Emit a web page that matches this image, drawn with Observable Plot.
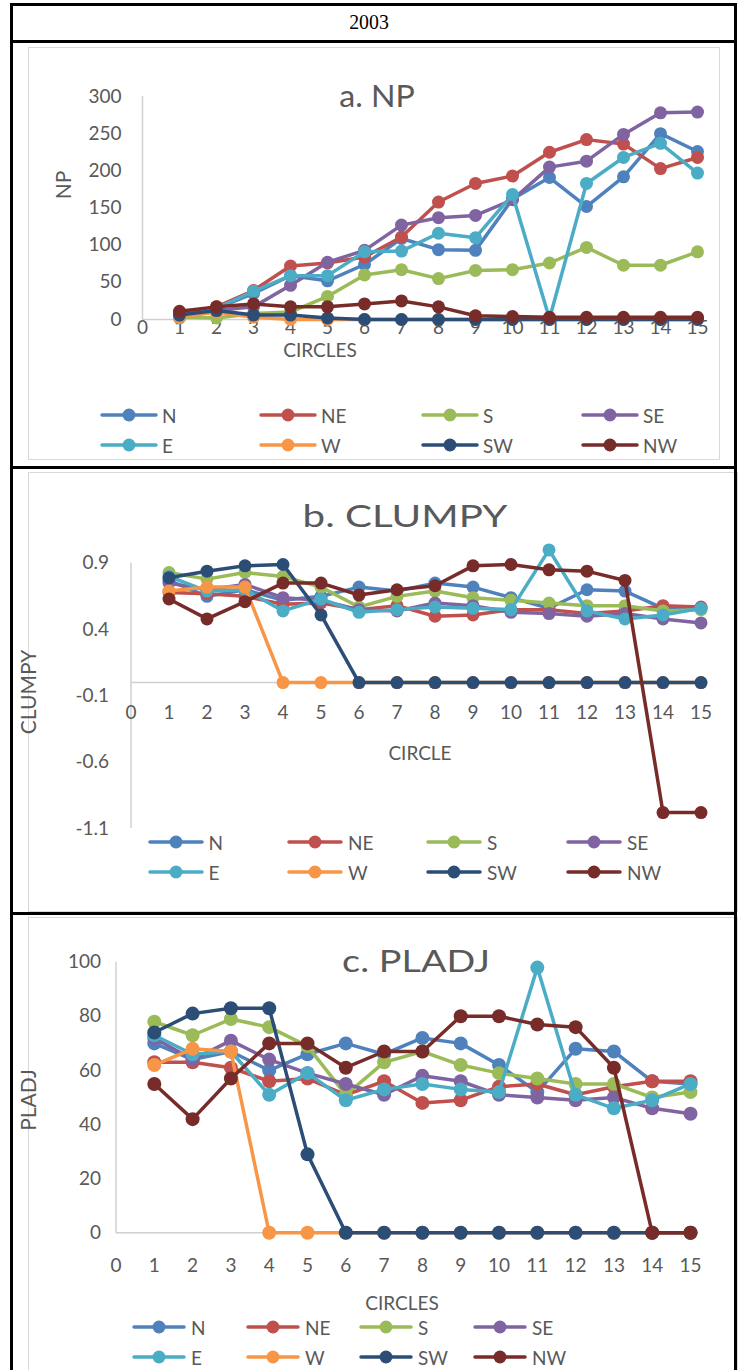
<!DOCTYPE html>
<html>
<head>
<meta charset="utf-8">
<script src="https://cdn.jsdelivr.net/npm/d3@7"></script>
<script src="https://cdn.jsdelivr.net/npm/@observablehq/plot@0.6"></script>
<style>
  html, body { margin: 0; padding: 0; background: #fff; }
  #page { position: relative; width: 738px; height: 1370px; overflow: hidden;
          font-family: Calibri, Carlito, Lato, sans-serif; color: #595959; }
  .blk { position: absolute; background: #000; }
  .gbox { position: absolute; border: 1.5px solid #d9d9d9; box-sizing: border-box; }
  .lbl { position: absolute; line-height: 1; white-space: nowrap; }
  .plotwrap { position: absolute; left: 0; }
</style>
</head>
<body>
<div id="page"></div>
<script>
// ---------------- data ----------------
const circles = [1, 2, 3, 4, 5, 6, 7, 8, 9, 10, 11, 12, 13, 14, 15];
const seriesNames = ["N", "NE", "S", "SE", "E", "W", "SW", "NW"];
const seriesColors = ["#4F81BD", "#C0504D", "#9BBB59", "#8064A2", "#4BACC6", "#F79646", "#2C4D75", "#772C2A"];
const xTicks = [0, 1, 2, 3, 4, 5, 6, 7, 8, 9, 10, 11, 12, 13, 14, 15];
const npTicks = [0, 50, 100, 150, 200, 250, 300];
const clumpyTicks = [0.9, 0.4, -0.1, -0.6, -1.1];
const pladjTicks = [0, 20, 40, 60, 80, 100];

// a. NP
const npN  = [5, 15, 35, 59, 52, 74, 109, 94, 93, 162, 191, 152, 192, 250, 226];
const npNE = [8, 17, 39, 72, 76, 84, 111, 158, 183, 193, 225, 242, 236, 203, 218];
const npS  = [3, 2, 8, 10, 31, 60, 67, 55, 66, 67, 76, 97, 73, 73, 91];
const npSE = [5, 12, 17, 46, 77, 93, 127, 137, 140, 161, 205, 213, 249, 278, 279];
const npE  = [2, 15, 38, 59, 59, 91, 92, 116, 110, 168, 1, 183, 218, 237, 197];
const npW  = [3, 10, 3, 0, 0, 0, 0, 0, 0, 0, 0, 0, 0, 0, 0];
const npSW = [6, 12, 6, 6, 2, 0, 0, 0, 0, 0, 0, 0, 0, 0, 0];
const npNW = [11, 17, 21, 17, 17, 21, 25, 17, 5, 4, 3, 3, 3, 3, 3];

// b. CLUMPY
const clN  = [0.77, 0.65, 0.70, 0.62, 0.65, 0.72, 0.69, 0.75, 0.72, 0.64, 0.56, 0.70, 0.69, 0.56, 0.56];
const clNE = [0.68, 0.67, 0.65, 0.59, 0.60, 0.55, 0.58, 0.50, 0.51, 0.55, 0.55, 0.52, 0.54, 0.58, 0.57];
const clS  = [0.83, 0.78, 0.83, 0.80, 0.72, 0.57, 0.65, 0.69, 0.64, 0.62, 0.60, 0.58, 0.58, 0.54, 0.55];
const clSE = [0.75, 0.70, 0.74, 0.64, 0.62, 0.55, 0.54, 0.60, 0.58, 0.53, 0.52, 0.50, 0.52, 0.48, 0.45];
const clE  = [0.80, 0.69, 0.70, 0.54, 0.63, 0.53, 0.55, 0.57, 0.56, 0.55, 1.00, 0.54, 0.48, 0.51, 0.56];
const clW  = [0.69, 0.72, 0.72, 0, 0, 0, 0, 0, 0, 0, 0, 0, 0, 0, 0];
const clSW = [0.79, 0.84, 0.88, 0.89, 0.51, 0, 0, 0, 0, 0, 0, 0, 0, 0, 0];
const clNW = [0.63, 0.48, 0.61, 0.75, 0.75, 0.66, 0.70, 0.73, 0.88, 0.89, 0.85, 0.84, 0.77, -0.98, -0.98];

// c. PLADJ
const plN  = [70, 64, 67, 60, 66, 70, 66, 72, 70, 62, 52, 68, 67, 56, 55];
const plNE = [63, 63, 61, 56, 57, 51, 56, 48, 49, 54, 55, 51, 54, 56, 56];
const plS  = [78, 73, 79, 76, 69, 51, 63, 67, 62, 59, 57, 55, 55, 50, 52];
const plSE = [72, 64, 71, 64, 59, 55, 51, 58, 56, 51, 50, 49, 50, 46, 44];
const plE  = [73, 66, 67, 51, 59, 49, 53, 55, 53, 52, 98, 51, 46, 49, 55];
const plW  = [62, 68, 67, 0, 0, 0, 0, 0, 0, 0, 0, 0, 0, 0, 0];
const plSW = [74, 81, 83, 83, 29, 0, 0, 0, 0, 0, 0, 0, 0, 0, 0];
const plNW = [55, 42, 57, 70, 70, 61, 67, 67, 80, 80, 77, 76, 61, 0, 0];

// ---------------- helpers ----------------
const page = document.getElementById("page");
const TXT = "#595959";
const FONT = "Lato, 'Open Sans', sans-serif";

function rowsOf(list) {
  const rows = [];
  list.forEach((vals, i) => {
    circles.forEach((c, j) => rows.push({series: seriesNames[i], circle: c, value: vals[j]}));
  });
  return rows;
}

function div(cls, css, text) {
  const d = document.createElement("div");
  d.className = cls;
  d.style.cssText = css;
  if (text !== undefined) d.textContent = text;
  page.appendChild(d);
  return d;
}

function label(text, x, y, size, rotate, sx) {
  div("lbl", `left:${x}px;top:${y}px;font-size:${size}px;font-family:${FONT};color:${TXT};` +
    `transform:translate(-50%,-50%)${rotate ? " rotate(-90deg)" : ""}${sx ? ` scaleX(${sx})` : ""};`, text);
}

function legend(xs, ys, half, gap) {
  seriesNames.forEach((name, i) => {
    const cx = xs[i % 4], cy = ys[Math.floor(i / 4)];
    const ns = "http://www.w3.org/2000/svg";
    const svg = document.createElementNS(ns, "svg");
    svg.setAttribute("width", 2 * half + 4);
    svg.setAttribute("height", 18);
    svg.style.cssText = `position:absolute;left:${cx - half - 2}px;top:${cy - 9}px;`;
    const ln = document.createElementNS(ns, "line");
    ln.setAttribute("x1", 2); ln.setAttribute("x2", 2 * half + 2);
    ln.setAttribute("y1", 9); ln.setAttribute("y2", 9);
    ln.setAttribute("stroke", seriesColors[i]); ln.setAttribute("stroke-width", 3.5);
    ln.setAttribute("stroke-linecap", "round");
    const c = document.createElementNS(ns, "circle");
    c.setAttribute("cx", half + 2); c.setAttribute("cy", 9); c.setAttribute("r", 6.5);
    c.setAttribute("fill", seriesColors[i]);
    svg.appendChild(ln); svg.appendChild(c);
    page.appendChild(svg);
    div("lbl", `left:${cx + gap}px;top:${cy}px;font-size:19px;font-family:${FONT};color:${TXT};transform:translateY(-50%);`, name);
  });
}

function chart(cfg) {
  const rows = rowsOf(cfg.values);
  const marks = [
    Plot.ruleX([0], {stroke: "#d0d0d0", strokeWidth: 1.5}),
    Plot.ruleY([0], {stroke: "#d0d0d0", strokeWidth: 1.5}),
    Plot.text(cfg.yTicks, {x: () => 0, y: d => d, text: cfg.yFmt, dx: cfg.ydx, textAnchor: "end",
      fill: TXT, fontSize: 19}),
    Plot.text(xTicks, {x: d => d, y: () => 0, text: d => String(d), dy: cfg.xdy,
      fill: TXT, fontSize: 19})
  ];
  seriesNames.forEach(name => {
    const sub = rows.filter(r => r.series === name);
    marks.push(Plot.line(sub, {x: "circle", y: "value", stroke: "series", strokeWidth: 3.5}));
    marks.push(Plot.dot(sub, {x: "circle", y: "value", fill: "series", r: cfg.r}));
  });
  const svg = Plot.plot({
    width: 738,
    height: cfg.height,
    marginLeft: cfg.ml, marginRight: cfg.mr, marginTop: cfg.mt, marginBottom: cfg.mb,
    x: {domain: [0, 15], axis: null},
    y: {domain: cfg.yDomain, axis: null},
    color: {domain: seriesNames, range: seriesColors},
    style: {fontFamily: FONT, color: TXT, background: "transparent", overflow: "visible"},
    marks
  });
  const w = document.createElement("div");
  w.className = "plotwrap";
  w.style.top = cfg.top + "px";
  w.appendChild(svg);
  page.appendChild(w);
}

// ---------------- frame (table + chart areas) ----------------
div("gbox", "left:28px;top:47px;width:692px;height:413px;");
div("gbox", "left:28px;top:472px;width:710px;height:440px;");
div("gbox", "left:28px;top:917px;width:710px;height:460px;");
div("blk", "left:10px;top:3px;width:727px;height:2.5px;");
div("blk", "left:10px;top:40px;width:727px;height:2.5px;");
div("blk", "left:10px;top:466px;width:727px;height:3px;");
div("blk", "left:10px;top:912px;width:727px;height:3px;");
div("blk", "left:10px;top:3px;width:3px;height:1367px;");
div("blk", "left:734px;top:3px;width:3px;height:1367px;");
div("lbl", "left:369px;top:22px;font-size:22px;font-family:'Liberation Serif','Times New Roman',serif;color:#000;transform:translate(-50%,-50%) scaleX(0.9);", "2003");

// ---------------- a. NP ----------------
chart({
  values: [npN, npNE, npS, npSE, npE, npW, npSW, npNW],
  top: 50, height: 310, ml: 142, mr: 41, mt: 46, mb: 41,
  yDomain: [0, 300], yTicks: npTicks, yFmt: d => String(d), ydx: -21, xdy: 8, r: 6.5
});
label("a. NP", 377, 95, 30, false, 1.07);
label("NP", 62, 185, 21, true);
label("CIRCLES", 320, 349, 19);
legend([129, 288, 450, 610], [415, 445], 27, 33);

// ---------------- b. CLUMPY ----------------
chart({
  values: [clN, clNE, clS, clSE, clE, clW, clSW, clNW],
  top: 480, height: 360, ml: 130.5, mr: 37.5, mt: 82.7, mb: 12,
  yDomain: [-1.1, 0.9], yTicks: clumpyTicks, yFmt: d => d.toFixed(1), ydx: -22, xdy: 30, r: 6.5
});
label("b. CLUMPY", 405, 515, 31, false, 1.3);
label("CLUMPY", 27, 692, 21, true);
label("CIRCLE", 420, 752, 19);
legend([175.5, 315, 454, 594], [842, 872], 26, 33);

// ---------------- c. PLADJ ----------------
chart({
  values: [plN, plNE, plS, plSE, plE, plW, plSW, plNW],
  top: 940, height: 340, ml: 115.5, mr: 48, mt: 21.7, mb: 47.7,
  yDomain: [0, 100], yTicks: pladjTicks, yFmt: d => String(d), ydx: -15, xdy: 33, r: 7
});
label("c. PLADJ", 416, 960, 31, false, 1.22);
label("PLADJ", 27, 1100, 21, true);
label("CIRCLES", 402, 1302, 19);
legend([159, 273, 386, 500], [1327, 1357], 25, 32);
</script>
</body>
</html>
